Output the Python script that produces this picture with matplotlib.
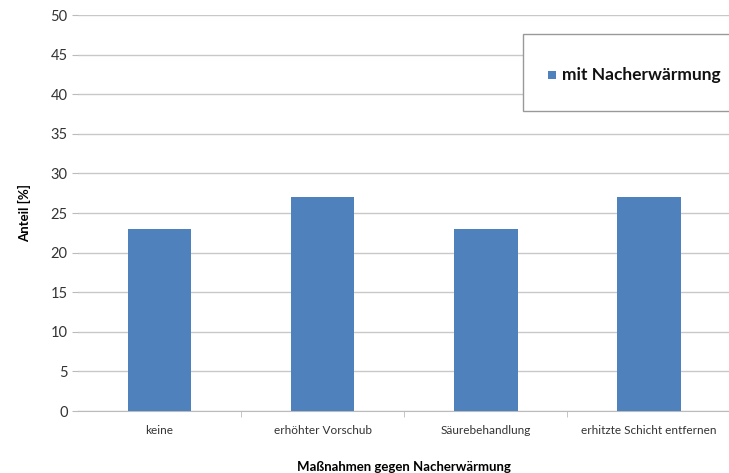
import matplotlib.pyplot as plt
from matplotlib.patches import Rectangle

# data
categories = ["keine", "erhöhter Vorschub", "Säurebehandlung", "erhitzte Schicht entfernen"]
values = [23, 27, 23, 27]
series_name = "mit Nacherwärmung"
yticks = [0, 5, 10, 15, 20, 25, 30, 35, 40, 45, 50]

bar_color = "#4f81bd"
plt.rcParams['font.family'] = ['Lato', 'DejaVu Sans']

fig = plt.figure(figsize=(7.29, 4.73), dpi=100)
ax = fig.add_axes([0.107, 0.131, 0.895, 0.837])

x = range(len(categories))
ax.bar(x, values, width=0.39, color=bar_color, zorder=3)

ax.set_xlim(-0.5, len(categories) - 0.5)
ax.set_ylim(0, 50)
ax.set_yticks(yticks)
ax.set_xticks(list(x))
ax.set_xticklabels(categories, fontsize=8.5, color="#333333")
ax.tick_params(axis='y', labelsize=10.5, colors="#333333", length=4, color="#bbbbbb")
ax.tick_params(axis='x', length=0, pad=10)

# minor ticks between categories on the x axis
ax.set_xticks([i + 0.5 for i in range(len(categories) - 1)], minor=True)
ax.tick_params(axis='x', which='minor', length=4, color="#bbbbbb")

ax.grid(axis='y', color="#c8c8c8", linewidth=1, zorder=0)
for s in ['top', 'right', 'left']:
    ax.spines[s].set_visible(False)
ax.spines['bottom'].set_color("#bbbbbb")

ax.set_ylabel("Anteil [%]", fontsize=9.5, fontweight='bold', labelpad=14)
ax.set_xlabel("Maßnahmen gegen Nacherwärmung", fontsize=9.5, fontweight='bold', labelpad=18)

# legend box
box = Rectangle((523 / 729, 1 - 111 / 473), 0.3, 77 / 473, transform=fig.transFigure,
                facecolor='white', edgecolor='#999999', linewidth=1, zorder=5)
fig.patches.append(box)
fig.patches.append(Rectangle((548 / 729, 1 - 79 / 473), 8 / 729, 8 / 473,
                             transform=fig.transFigure, facecolor=bar_color, zorder=6))
fig.text(562 / 729, 1 - 75 / 473, series_name, fontsize=12.5, fontweight='bold',
         va='center', ha='left', color="#111111", zorder=7)

fig.savefig("out.png", dpi=100)
